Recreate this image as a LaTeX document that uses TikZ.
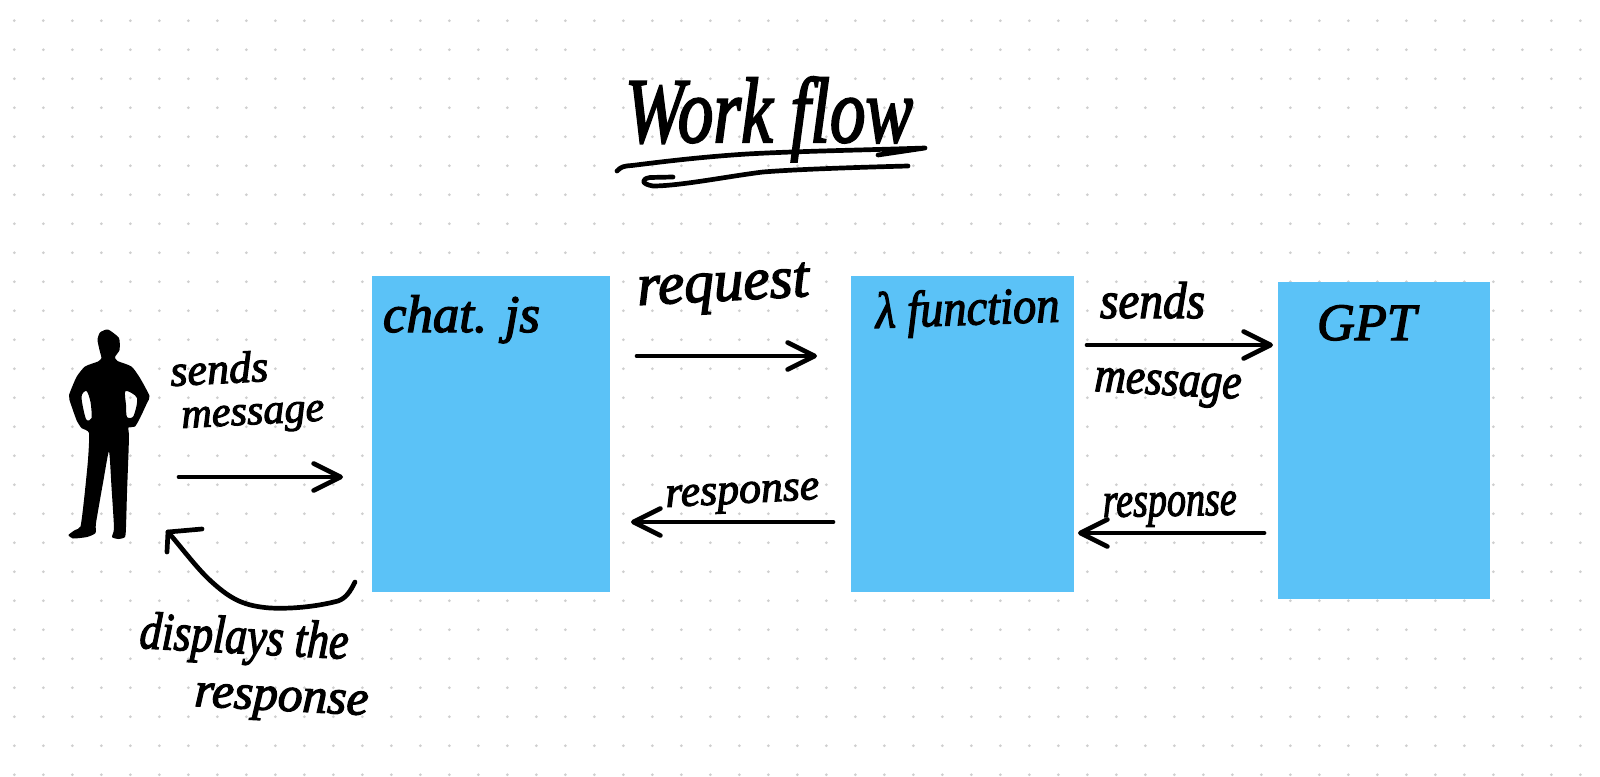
\documentclass[tikz,border=0pt]{standalone}
\usepackage{fontspec}
\usepackage{graphicx}
\usetikzlibrary{arrows.meta}
\newfontfamily\hw[FakeBold=2.5]{Liberation Serif Italic}
\definecolor{boxblue}{HTML}{5BC2F7}
\definecolor{dotgrey}{HTML}{CFCFCF}
\newcommand{\fit}[3][1]{\scalebox{1}[#1]{\resizebox{#2pt}{!}{\hw #3}}}
\tikzset{
  x=1pt,y=-1pt,
  bluebox/.style={fill=boxblue,draw=none,inner sep=0pt,outer sep=0pt,anchor=north west},
  hand/.style={inner sep=0pt,outer sep=0pt,anchor=base west,text=black},
  stroke/.style={draw=black,line width=4.7pt,line cap=round,line join=round},
  flowarrow/.style={stroke,-{Straight Barb[length=27pt,width=27pt,round]}},
}
\begin{document}
\begin{tikzpicture}
\useasboundingbox (0,0) rectangle (1600,776);
\fill[white] (0,0) rectangle (1600,776);
\foreach \i in {0,...,55}{\foreach \j in {0,...,26}{
  \fill[dotgrey] ({14.3+29*\i},{20.7+29*\j}) circle[radius=1.5pt];
}}
% boxes
\node[bluebox,minimum width=238pt,minimum height=316pt] (chatbox) at (372,276) {};
\node[bluebox,minimum width=223pt,minimum height=316pt] (lambdabox) at (851,276) {};
\node[bluebox,minimum width=212pt,minimum height=317pt] (gptbox) at (1278,282) {};
% person
\fill[black,even odd rule]
 plot[smooth cycle,tension=0.35] coordinates {
 (108,329.5) (119,338) (119.5,350) (115,357) (117.5,361) (131.5,366.5) (140,378) (149.5,396) (147,403) (140,418) (135,426.5) (128.5,427.5) (129,435)
 (128.5,453) (127,493) (126,527) (125,537) (118.5,539) (112,537) (114,528) (111.5,487) (109,451.5)
 (103.5,480) (96,523) (95.5,533) (87,537) (73,538.5) (68.5,535) (75,530) (80.5,526.5) (84,500) (88,460) (89,433)
 (81.5,428) (76.5,420) (69.5,400) (69,395) (76.5,377) (85,366.5) (98,361.5) (101.5,358) (100,352) (97.5,340) (100,332.5)}
 plot[smooth cycle,tension=0.5] coordinates {(86.5,391) (81.5,397) (86,419) (91.5,418) (90.5,402)}
 plot[smooth cycle,tension=0.5] coordinates {(125.5,391) (137,398) (133.5,416) (127,417) (126,405)};
% coordinates
\coordinate (a1s) at (179,477); \coordinate (a1e) at (343,477);
\coordinate (a2s) at (637,356); \coordinate (a2e) at (817,356);
\coordinate (a3s) at (833,522); \coordinate (a3e) at (631,522);
\coordinate (a4s) at (1087,345); \coordinate (a4e) at (1273,345);
\coordinate (a5s) at (1264,533); \coordinate (a5e) at (1078,533);
\coordinate (c1s) at (355,582); \coordinate (c1e) at (168,532);
\draw[flowarrow] (a1s) -- (a1e);
\draw[flowarrow] (a2s) -- (a2e);
\draw[flowarrow] (a3s) -- (a3e);
\draw[flowarrow] (a4s) -- (a4e);
\draw[flowarrow] (a5s) -- (a5e);
% curved return arrow
\draw[stroke] (c1s) .. controls (350,592) and (346,598) .. (338,601)
  .. controls (315,607) and (290,609) .. (270,608)
  .. controls (245,606) and (232,600) .. (213,583)
  .. controls (198,570) and (182,548) .. (c1e);
\draw[stroke] (167,552) -- (c1e) -- (202,529);
% title underlines
\draw[stroke] (617,171) .. controls (621,167) and (623,166) .. (632,165.5)
  .. controls (660,162) and (700,157) .. (747,154)
  .. controls (800,151) and (870,150) .. (925,148) -- (878,155);
\draw[stroke] (673,177) -- (650,177.5) .. controls (641,179) and (641,184) .. (653,186)
  .. controls (680,186) and (730,176) .. (763,172)
  .. controls (800,169) and (870,167) .. (908,166);
% texts
\node[hand] (title) at (625,142) {\fit[1.3]{288}{Work flow}};
\node[hand] (chatlabel) at (383,332) {\fit{157}{chat. js}};
\node[hand,rotate=2] (lambdalabel) at (876,328) {\fit[1.1]{184}{λ function}};
\node[hand] (gptlabel) at (1317,340) {\fit{99}{GPT}};
\node[hand,rotate=3] (requestlabel) at (638,305) {\fit{172}{request}};
\node[hand,rotate=3] (resplabela) at (666,507) {\fit{154}{response}};
\node[hand] (sendslabelb) at (1100,318) {\fit[1.1]{105}{sends}};
\node[hand,rotate=-3] (msglabelb) at (1094,391) {\fit[1.15]{147}{message}};
\node[hand,rotate=1] (resplabelb) at (1103,517) {\fit[1.3]{134}{response}};
\node[hand,rotate=3] (sendslabela) at (171,386) {\fit{98}{sends}};
\node[hand,rotate=3] (msglabela) at (182,428) {\fit{143}{message}};
\node[hand,rotate=-3] (displabel) at (139,648) {\fit[1.2]{209}{displays the}};
\node[hand,rotate=-3] (resplabelc) at (194,706) {\fit{174}{response}};
\end{tikzpicture}
\end{document}
